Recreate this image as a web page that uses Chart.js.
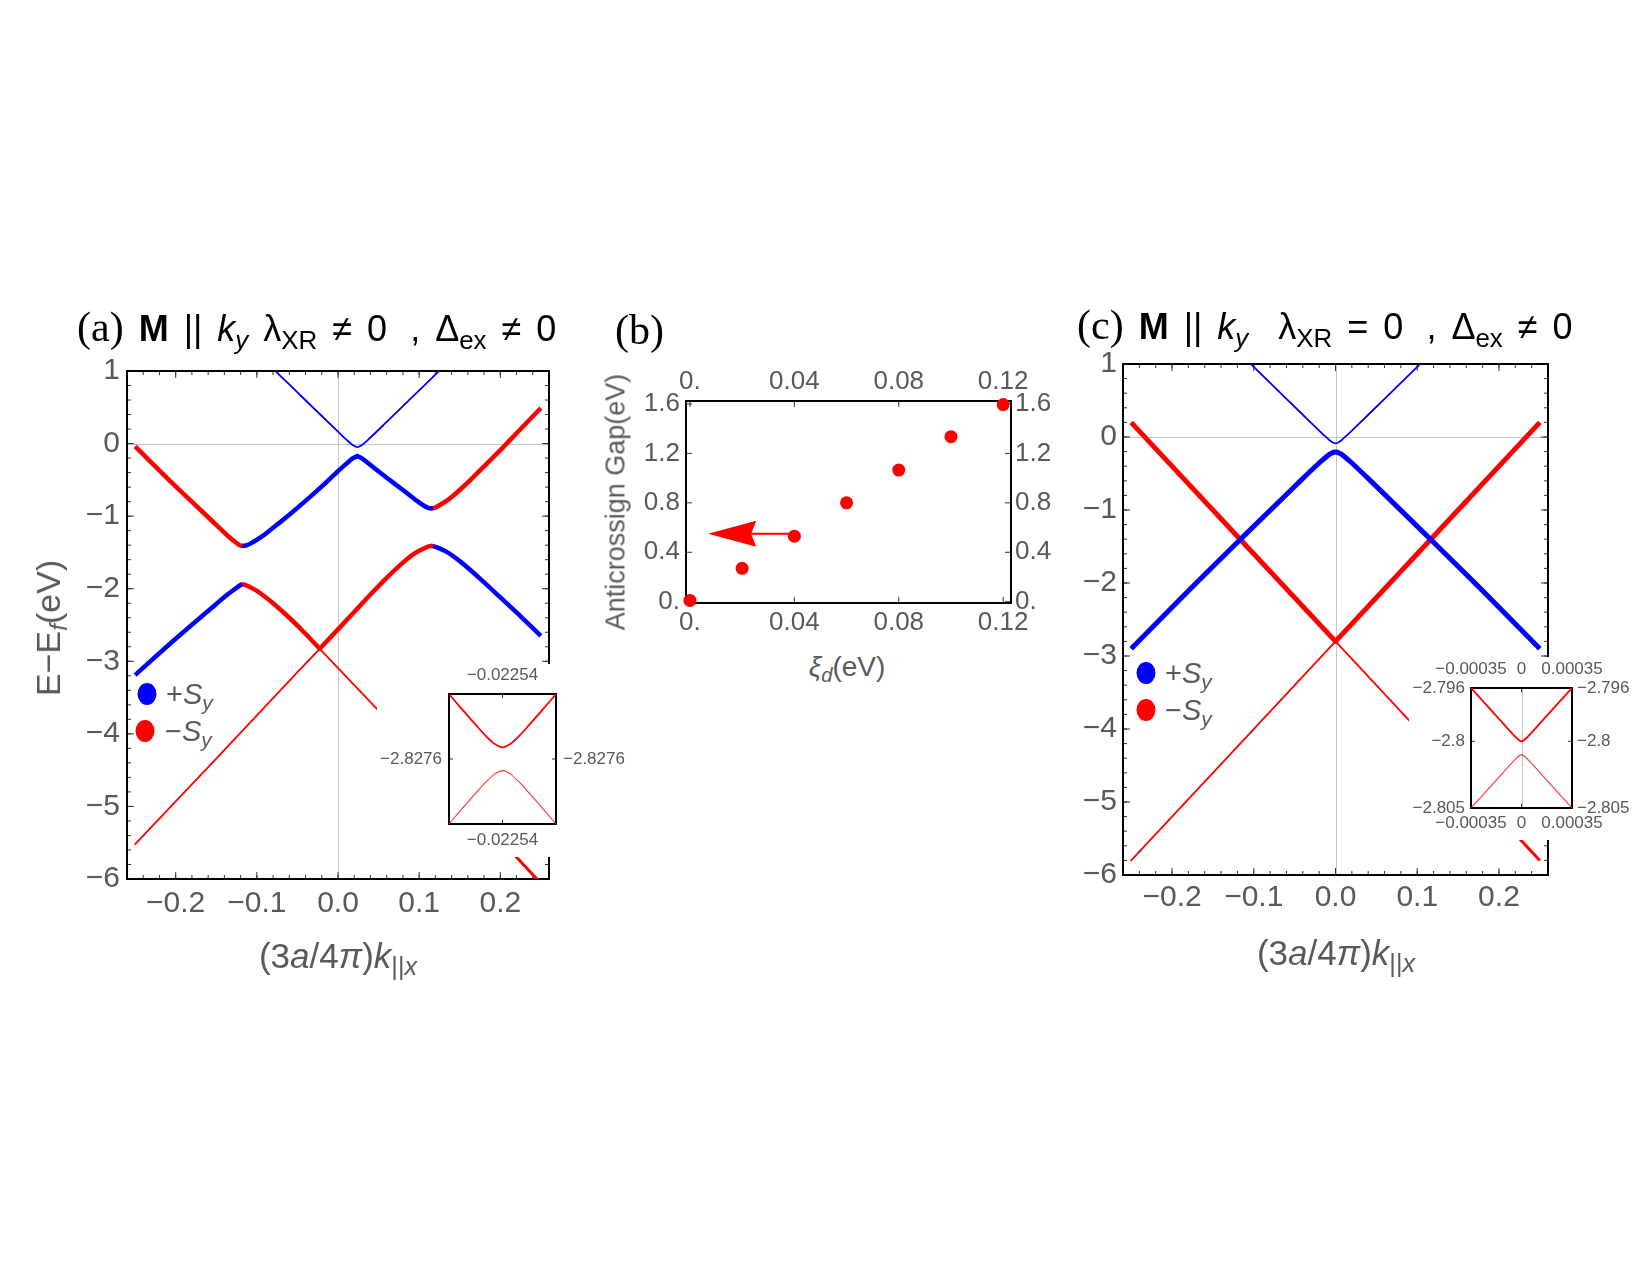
<!DOCTYPE html>
<html>
<head>
<meta charset="utf-8">
<title>Spin-resolved bands</title>
<script src="https://cdn.jsdelivr.net/npm/chart.js@4.4.1/dist/chart.umd.min.js"></script>
<style>
  html, body { margin: 0; padding: 0; background: #fff; }
  #page { position: relative; width: 1650px; height: 1275px; overflow: hidden; background: #fff; }
  canvas { position: absolute; }
  .inset { background: #fff; z-index: 2; }
  .txt { position: absolute; white-space: nowrap; font-family: 'Liberation Sans', Arial, sans-serif; z-index: 3; }
  .title { font-size: 36px; color: #000; line-height: 40px; word-spacing: 5px; }
  .panel { font-family: 'Liberation Serif', 'Times New Roman', serif; font-size: 42px; word-spacing: 0; }
  .gap { display: inline-block; width: 8px; }
  .axt { color: #595959; font-size: 35px; line-height: 1; transform: translate(-50%, -50%); }
  .axty { color: #595959; font-size: 34px; line-height: 1; }
  .axtb { color: #595959; font-size: 27px; line-height: 1; transform: translate(-50%, -50%); }
  .rot { transform: translate(-50%, -50%) rotate(-90deg); }
  .leg { color: #595959; font-size: 29px; line-height: 1; transform: translateY(-50%); }
  .dot { position: absolute; width: 19px; height: 22px; border-radius: 50%; transform: translate(-50%, -50%); z-index: 3; }
  sub { font-size: 0.72em; vertical-align: -0.3em; line-height: 0; }
</style>
</head>
<body>
<div id="page">
  <canvas id="chartA" width="620" height="630" style="left:0px;top:340px"></canvas>
  <canvas id="chartB" width="480" height="300" style="left:600px;top:340px"></canvas>
  <canvas id="chartC" width="620" height="640" style="left:1000px;top:330px"></canvas>
  <canvas id="insetA" class="inset" width="253" height="193" style="left:377px;top:664px"></canvas>
  <canvas id="insetC" class="inset" width="236" height="183" style="left:1409px;top:657px"></canvas>

  <!-- titles -->
  <div class="txt title" style="left:77px;top:307px"><span class="panel">(a)</span> <b>M</b> || <i>k</i><sub><i>y</i></sub> λ<sub>XR</sub> ≠ 0<span class="gap"></span> , Δ<sub>ex</sub> ≠ 0</div>
  <div class="txt title" style="left:615px;top:310px"><span class="panel">(b)</span></div>
  <div class="txt title" style="left:1077px;top:305px"><span class="panel">(c)</span> <b>M</b> || <i>k</i><sub><i>y</i></sub>&nbsp; λ<sub>XR</sub> = 0<span class="gap"></span> , Δ<sub>ex</sub> ≠ 0</div>

  <!-- axis titles -->
  <div class="txt axty rot" style="left:48px;top:628px">E−E<sub><i>f</i></sub>(eV)</div>
  <div class="txt axt" style="left:338px;top:955px">(3<i>a</i>/4<i>π</i>)<i>k</i><sub>||<i>x</i></sub></div>
  <div class="txt axt" style="left:1336px;top:952px">(3<i>a</i>/4<i>π</i>)<i>k</i><sub>||<i>x</i></sub></div>
  <div class="txt axtb rot" style="left:616px;top:502px">Anticrossign Gap(eV)</div>
  <div class="txt axtb" style="left:847px;top:667px;font-size:28px"><i>ξ</i><sub><i>d</i></sub>(eV)</div>

  <!-- legends -->
  <div class="dot" style="left:147px;top:694px;background:#0000ff"></div>
  <div class="txt leg" style="left:166px;top:694px">+<i>S</i><sub><i>y</i></sub></div>
  <div class="dot" style="left:145px;top:731px;background:#ff0000"></div>
  <div class="txt leg" style="left:165px;top:731px">−<i>S</i><sub><i>y</i></sub></div>

  <div class="dot" style="left:1146px;top:673px;background:#0000ff"></div>
  <div class="txt leg" style="left:1165px;top:673px">+<i>S</i><sub><i>y</i></sub></div>
  <div class="dot" style="left:1146px;top:710px;background:#ff0000"></div>
  <div class="txt leg" style="left:1165px;top:710px">−<i>S</i><sub><i>y</i></sub></div>
</div>

<script>
// ===== panel (a): bands, M || ky, lambda_XR != 0 =====
const A_X_TICKS = [-0.2, -0.1, 0, 0.1, 0.2];
const A_X_LABELS = ['−0.2', '−0.1', '0.0', '0.1', '0.2'];
const A_Y_TICKS = [-6, -5, -4, -3, -2, -1, 0, 1];
const A_Y_LABELS = ['−6', '−5', '−4', '−3', '−2', '−1', '0', '1'];

// thin blue band on top
const A_K_B1 = [-0.10, -0.08, -0.06, -0.04, -0.02, 0.0, 0.01, 0.018, 0.0238, 0.03, 0.04, 0.06, 0.08, 0.10, 0.12, 0.14];
const A_E_B1 = [1.25, 1.03, 0.815, 0.597, 0.38, 0.164, 0.058, -0.019, -0.05, -0.016, 0.084, 0.298, 0.515, 0.732, 0.95, 1.17];

// thick upper band, split by spin
const A_K_B2_L = [-0.25, -0.20, -0.15, -0.135, -0.125, -0.121, -0.118];
const A_E_B2_L = [-0.04, -0.59, -1.12, -1.28, -1.37, -1.40, -1.41];
const A_K_B2_M = [-0.118, -0.112, -0.105, -0.095, -0.08, -0.06, -0.04, -0.02, 0.0, 0.01, 0.018, 0.0238];
const A_E_B2_M = [-1.41, -1.40, -1.36, -1.29, -1.16, -0.98, -0.79, -0.59, -0.38, -0.28, -0.205, -0.174];
const A_K_B2_R = [0.0238, 0.029, 0.035, 0.045, 0.06, 0.08, 0.095, 0.105, 0.111, 0.115];
const A_E_B2_R = [-0.174, -0.20, -0.25, -0.34, -0.47, -0.64, -0.77, -0.85, -0.885, -0.893];
const A_K_B2_RR = [0.115, 0.119, 0.125, 0.135, 0.15, 0.175, 0.2, 0.225, 0.25];
const A_E_B2_RR = [-0.893, -0.885, -0.85, -0.78, -0.64, -0.37, -0.09, 0.2, 0.49];

// thick lower band
const A_K_B3_L = [-0.25, -0.2, -0.15, -0.135, -0.126, -0.121, -0.118];
const A_E_B3_L = [-3.19, -2.69, -2.21, -2.07, -1.995, -1.955, -1.94];
const A_K_B3_M1 = [-0.118, -0.114, -0.108, -0.10, -0.09, -0.08, -0.06, -0.04, -0.0225];
const A_E_B3_M1 = [-1.94, -1.95, -1.98, -2.03, -2.11, -2.20, -2.40, -2.62, -2.8275];
const A_K_B3_M2 = [-0.0225, 0.0, 0.02, 0.04, 0.06, 0.08, 0.095, 0.105, 0.111, 0.115];
const A_E_B3_M2 = [-2.8275, -2.56, -2.32, -2.08, -1.85, -1.64, -1.51, -1.45, -1.42, -1.41];
const A_K_B3_R = [0.115, 0.119, 0.125, 0.135, 0.15, 0.175, 0.2, 0.225, 0.25];
const A_E_B3_R = [-1.41, -1.42, -1.445, -1.50, -1.62, -1.86, -2.12, -2.38, -2.65];

// thin red band at the bottom
const A_K_B4 = [-0.25, -0.15, -0.05, -0.0225, 0.05, 0.12];
const A_E_B4 = [-5.52, -4.34, -3.15, -2.8277, -3.68, -4.51];
const A_K_B4_END = [0.12, 0.2, 0.25];
const A_E_B4_END = [-4.51, -5.46, -6.06];

// inset (a): zoom on the anticrossing
const IA_X_TICKS = [-0.02254];
const IA_X_LABELS = ['−0.02254'];
const IA_Y_TICKS = [-2.8276];
const IA_Y_LABELS = ['−2.8276'];
const IA_K = [-0.02256, -0.022555, -0.02255, -0.022546, -0.022543, -0.02254, -0.022537, -0.022534, -0.02253, -0.022525, -0.02252];
const IA_UP = [-2.82736, -2.827418, -2.827474, -2.827517, -2.827544, -2.827557, -2.827544, -2.827517, -2.827474, -2.827418, -2.82736];
const IA_LO = [-2.82784, -2.827782, -2.827726, -2.827683, -2.827656, -2.827643, -2.827656, -2.827683, -2.827726, -2.827782, -2.82784];

// ===== panel (b): anticrossing gap vs xi_d =====
const B_X_TICKS = [0, 0.04, 0.08, 0.12];
const B_X_LABELS = ['0.', '0.04', '0.08', '0.12'];
const B_Y_TICKS = [0, 0.4, 0.8, 1.2, 1.6];
const B_Y_LABELS = ['0.', '0.4', '0.8', '1.2', '1.6'];
const B_XI = [0, 0.02, 0.04, 0.06, 0.08, 0.10, 0.12];
const B_GAP = [0.01, 0.27, 0.53, 0.80, 1.065, 1.335, 1.595];
const B_ARROW_FROM = [0.04, 0.55];
const B_ARROW_TO = [0.007, 0.55];

// ===== panel (c): bands, lambda_XR = 0 =====
const C_K_B1 = [-0.13, -0.10, -0.07, -0.04, -0.02, -0.01, -0.005, 0, 0.005, 0.01, 0.02, 0.04, 0.07, 0.10, 0.13];
const C_E_B1 = [1.29, 0.961, 0.633, 0.305, 0.088, -0.016, -0.063, -0.087, -0.063, -0.016, 0.088, 0.305, 0.633, 0.961, 1.29];
const C_K_B2 = [-0.25, -0.175, -0.1167, -0.05, -0.02, -0.01, -0.005, 0, 0.005, 0.01, 0.02, 0.05, 0.1167, 0.175, 0.25];
const C_E_B2 = [-2.90, -2.05, -1.406, -0.677, -0.356, -0.259, -0.221, -0.205, -0.221, -0.259, -0.356, -0.677, -1.406, -2.05, -2.90];
const C_K_R1 = [-0.25, -0.1167, 0, 0.1167, 0.25];
const C_E_R1 = [0.20, -1.40, -2.80, -1.40, 0.20];
const C_K_R2 = [-0.25, -0.12, 0, 0.12];
const C_E_R2 = [-5.80, -4.24, -2.801, -4.24];
const C_K_R2_END = [0.12, 0.25];
const C_E_R2_END = [-4.24, -5.80];

// inset (c)
const IC_X_TICKS = [-0.00035, 0, 0.00035];
const IC_X_LABELS = ['−0.00035', '0', '0.00035'];
const IC_Y_TICKS = [-2.805, -2.8, -2.796];
const IC_Y_LABELS = ['−2.805', '−2.8', '−2.796'];
const IC_K = [-0.00035, -0.0002, -0.00012, -0.00007, -0.00003, 0, 0.00003, 0.00007, 0.00012, 0.0002, 0.00035];
const IC_UP = [-2.796, -2.79779, -2.79875, -2.79934, -2.79979, -2.8000, -2.79979, -2.79934, -2.79875, -2.79779, -2.796];
const IC_LO = [-2.805, -2.80321, -2.80225, -2.80166, -2.80121, -2.8010, -2.80121, -2.80166, -2.80225, -2.80321, -2.805];


// ===== helpers =====
const SANS = "'Liberation Sans', Arial, sans-serif";
const GRAY = '#595959';
const BLUE = '#0000ff';
const RED = '#ff0000';

function curve(ks, es, color, width, smooth, cap) {
    return {
        data: ks.map((k, i) => ({ x: k, y: es[i] })),
        borderColor: color,
        borderWidth: width,
        pointRadius: 0,
        fill: false,
        clip: 0,
        tension: 0,
        cubicInterpolationMode: smooth ? 'monotone' : 'default',
        borderCapStyle: cap || 'butt',
        borderJoinStyle: 'round'
    };
}

function axis(pos, min, max, ticks, labels, size, fontSize, pad) {
    const vertical = (pos === 'left' || pos === 'right');
    return {
        type: 'linear',
        position: pos,
        min: min,
        max: max,
        grid: { display: false, drawTicks: false },
        border: { display: false },
        afterBuildTicks: s => { s.ticks = ticks.map(v => ({ value: v })); },
        afterFit: s => { if (vertical) s.width = size; else s.height = size; },
        ticks: {
            autoSkip: false, maxRotation: 0, minRotation: 0,
            padding: pad, color: GRAY,
            font: { family: SANS, size: fontSize },
            callback: (v, i) => labels[i]
        }
    };
}

function seg(ctx, x1, y1, x2, y2) {
    ctx.beginPath();
    ctx.moveTo(x1, y1);
    ctx.lineTo(x2, y2);
    ctx.stroke();
}

// frame with inward ticks on all four sides, plus the zero lines
function makeFrame(cfg) {
    return {
        id: 'frame',
        beforeDatasetsDraw(chart) {
            const ctx = chart.ctx, a = chart.chartArea;
            const x = chart.scales.x, y = chart.scales.y;
            ctx.save();

            ctx.strokeStyle = '#c6c6c6';
            ctx.lineWidth = 1;
            (cfg.gridX || []).forEach(v => {
                const p = Math.round(x.getPixelForValue(v)) + 0.5;
                seg(ctx, p, a.top, p, a.bottom);
            });
            (cfg.gridY || []).forEach(v => {
                const p = Math.round(y.getPixelForValue(v)) + 0.5;
                seg(ctx, a.left, p, a.right, p);
            });

            ctx.strokeStyle = '#333';
            ctx.lineWidth = 1;
            const tickX = (v, len) => {
                const p = x.getPixelForValue(v);
                seg(ctx, p, a.bottom, p, a.bottom - len);
                seg(ctx, p, a.top, p, a.top + len);
            };
            const tickY = (v, len) => {
                const p = y.getPixelForValue(v);
                seg(ctx, a.left, p, a.left + len, p);
                seg(ctx, a.right, p, a.right - len, p);
            };
            if (cfg.xMinor) {
                for (let i = Math.ceil(x.min / cfg.xMinor - 1e-6); i * cfg.xMinor <= x.max + 1e-9; i++) tickX(i * cfg.xMinor, cfg.minor);
            }
            if (cfg.yMinor) {
                for (let i = Math.ceil(y.min / cfg.yMinor - 1e-6); i * cfg.yMinor <= y.max + 1e-9; i++) tickY(i * cfg.yMinor, cfg.minor);
            }
            (cfg.xMajor || []).forEach(v => tickX(v, cfg.major));
            (cfg.yMajor || []).forEach(v => tickY(v, cfg.major));

            ctx.strokeStyle = '#000';
            ctx.lineWidth = 2;
            ctx.strokeRect(a.left, a.top, a.right - a.left, a.bottom - a.top);
            ctx.restore();
        }
    };
}

// arrow pointing at the left axis in (b)
const arrowPlugin = {
    id: 'arrow',
    beforeDatasetsDraw(chart) {
        const ctx = chart.ctx, x = chart.scales.x, y = chart.scales.y;
        const x1 = x.getPixelForValue(B_ARROW_FROM[0]), y1 = y.getPixelForValue(B_ARROW_FROM[1]);
        const x2 = x.getPixelForValue(B_ARROW_TO[0]), y2 = y.getPixelForValue(B_ARROW_TO[1]);
        const headLen = 48, half = 13, notch = 5;
        ctx.save();
        ctx.strokeStyle = RED;
        ctx.fillStyle = RED;
        ctx.lineWidth = 2;
        seg(ctx, x1, y1, x2 + headLen - notch, y2);
        ctx.beginPath();
        ctx.moveTo(x2, y2);
        ctx.lineTo(x2 + headLen, y2 - half);
        ctx.lineTo(x2 + headLen - notch, y2);
        ctx.lineTo(x2 + headLen, y2 + half);
        ctx.closePath();
        ctx.fill();
        ctx.restore();
    }
};

const BASE = {
    responsive: false,
    maintainAspectRatio: false,
    animation: false,
    events: [],
    plugins: { legend: { display: false }, tooltip: { enabled: false } }
};


// ===== (a) =====
new Chart(document.getElementById('chartA'), {
    type: 'line',
    data: {
        datasets: [
            curve(A_K_B4, A_E_B4, RED, 1.8, false, 'round'),
            curve(A_K_B4_END, A_E_B4_END, RED, 3, false),
            curve(A_K_B1, A_E_B1, BLUE, 1.8, true),
            curve(A_K_B2_L, A_E_B2_L, RED, 4.5, true),
            curve(A_K_B2_M, A_E_B2_M, BLUE, 4.5, true, 'round'),
            curve(A_K_B2_R, A_E_B2_R, BLUE, 4.5, true, 'round'),
            curve(A_K_B2_RR, A_E_B2_RR, RED, 4.5, true),
            curve(A_K_B3_L, A_E_B3_L, BLUE, 4.5, true),
            curve(A_K_B3_M1, A_E_B3_M1, RED, 4.5, true, 'round'),
            curve(A_K_B3_M2, A_E_B3_M2, RED, 4.5, true, 'round'),
            curve(A_K_B3_R, A_E_B3_R, BLUE, 4.5, true)
        ]
    },
    options: {
        ...BASE,
        layout: { padding: { left: 0, right: 71, top: 31, bottom: 0 } },
        scales: {
            x: axis('bottom', -0.26, 0.26, A_X_TICKS, A_X_LABELS, 91, 30, 7),
            y: axis('left', -6, 1, A_Y_TICKS, A_Y_LABELS, 127, 30, 7)
        }
    },
    plugins: [makeFrame({ gridX: [0], gridY: [0], xMajor: A_X_TICKS, xMinor: 0.02, yMajor: A_Y_TICKS, yMinor: 0.2, major: 7, minor: 4 })]
});


// ===== (b) =====
new Chart(document.getElementById('chartB'), {
    type: 'scatter',
    data: {
        datasets: [{
            data: B_XI.map((v, i) => ({ x: v, y: B_GAP[i] })),
            backgroundColor: RED,
            borderWidth: 0,
            pointRadius: 6.5,
            clip: false
        }]
    },
    options: {
        ...BASE,
        layout: { padding: 0 },
        scales: {
            x: axis('bottom', -0.0015, 0.123, B_X_TICKS, B_X_LABELS, 37, 26, 4),
            x2: axis('top', -0.0015, 0.123, B_X_TICKS, B_X_LABELS, 61, 26, 4),
            y: axis('left', -0.0105, 1.624, B_Y_TICKS, B_Y_LABELS, 86, 26, 6),
            y2: axis('right', -0.0105, 1.624, B_Y_TICKS, B_Y_LABELS, 69, 26, 4)
        }
    },
    plugins: [makeFrame({ xMajor: B_X_TICKS, yMajor: B_Y_TICKS, major: 6, minor: 3 }), arrowPlugin]
});


// ===== (c) =====
new Chart(document.getElementById('chartC'), {
    type: 'line',
    data: {
        datasets: [
            curve(C_K_R2, C_E_R2, RED, 1.8, false, 'round'),
            curve(C_K_R2_END, C_E_R2_END, RED, 3, false),
            curve(C_K_B1, C_E_B1, BLUE, 1.8, true),
            curve(C_K_B2, C_E_B2, BLUE, 5, true),
            curve(C_K_R1, C_E_R1, RED, 5, false, 'butt')
        ]
    },
    options: {
        ...BASE,
        layout: { padding: { left: 0, right: 72, top: 34, bottom: 0 } },
        scales: {
            x: axis('bottom', -0.26, 0.26, A_X_TICKS, A_X_LABELS, 95, 30, 5),
            y: axis('left', -6, 1, A_Y_TICKS, A_Y_LABELS, 123, 30, 6)
        }
    },
    plugins: [makeFrame({ gridX: [0], gridY: [0], xMajor: A_X_TICKS, xMinor: 0.02, yMajor: A_Y_TICKS, yMinor: 0.2, major: 7, minor: 4 })]
});


// ===== inset (a) =====
new Chart(document.getElementById('insetA'), {
    type: 'line',
    data: {
        datasets: [
            curve(IA_K, IA_UP, RED, 1.8, true),
            curve(IA_K, IA_LO, 'rgba(255,0,0,0.8)', 1.1, true)
        ]
    },
    options: {
        ...BASE,
        layout: { padding: 0 },
        scales: {
            x: axis('bottom', -0.02256, -0.02252, IA_X_TICKS, IA_X_LABELS, 33, 17, 6),
            x2: axis('top', -0.02256, -0.02252, IA_X_TICKS, IA_X_LABELS, 30, 17, 8),
            y: axis('left', -2.82784, -2.82736, IA_Y_TICKS, IA_Y_LABELS, 72, 17, 7),
            y2: axis('right', -2.82784, -2.82736, IA_Y_TICKS, IA_Y_LABELS, 74, 17, 7)
        }
    },
    plugins: [makeFrame({ xMajor: IA_X_TICKS, yMajor: IA_Y_TICKS, major: 4, minor: 2 })]
});


// ===== inset (c) =====
new Chart(document.getElementById('insetC'), {
    type: 'line',
    data: {
        datasets: [
            curve(IC_K, IC_UP, RED, 1.8, true),
            curve(IC_K, IC_LO, 'rgba(255,0,0,0.8)', 1.1, true)
        ]
    },
    options: {
        ...BASE,
        layout: { padding: 0 },
        scales: {
            x: axis('bottom', -0.00035, 0.00035, IC_X_TICKS, IC_X_LABELS, 32, 17, 5),
            x2: axis('top', -0.00035, 0.00035, IC_X_TICKS, IC_X_LABELS, 31, 17, 8),
            y: axis('left', -2.805, -2.796, IC_Y_TICKS, IC_Y_LABELS, 62, 17, 6),
            y2: axis('right', -2.805, -2.796, IC_Y_TICKS, IC_Y_LABELS, 73, 17, 5)
        }
    },
    plugins: [makeFrame({ gridX: [0], xMajor: IC_X_TICKS, yMajor: IC_Y_TICKS, major: 4, minor: 2 })]
});
</script>
</body>
</html>
